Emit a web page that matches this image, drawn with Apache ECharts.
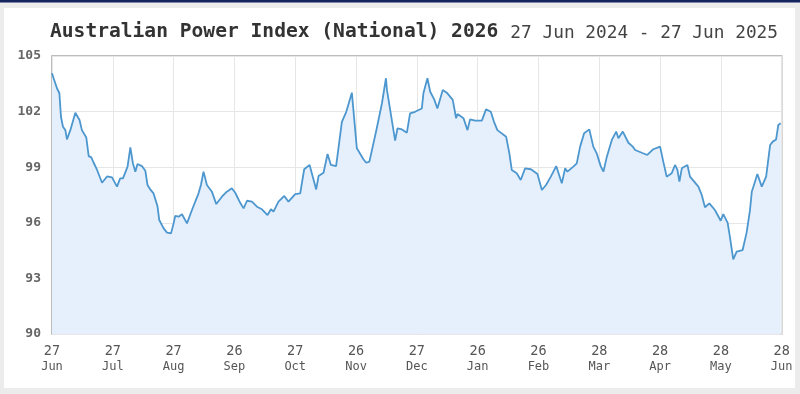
<!DOCTYPE html>
<html>
<head>
<meta charset="utf-8">
<script src="https://cdn.jsdelivr.net/npm/echarts@6/dist/echarts.min.js"></script>
<style>
html,body{margin:0;padding:0;background:#ececec;}
#chart{width:800px;height:394px;}
</style>
</head>
<body>
<div id="chart"></div>
<script>
// Days since 27 Jun 2024
const dayOffsets = [0,0.8,2.5,3.7,4.5,5.5,6.7,7.5,9.2,11.7,13.8,15,17.2,18.4,19.7,20.9,22.6,25.1,27.6,30.1,32.6,34.2,35.6,37.9,39.3,40.6,41.8,42.9,45.1,46.8,47.9,49.3,50.9,52.9,53.8,56,57.7,59.7,61,61.8,63.5,65.2,67.7,70.2,73.5,74.7,76,77.7,80.2,82.4,85.2,87.7,90.2,91.9,94.4,
96.1,97.8,100.3,102.8,105.3,108.1,109.8,111.1,113.6,116.5,118.6,122,124.5,126.5,129.2,132.5,133.7,136.2,138.2,139.9,142.5,145.4,147.6,150.4,152.9,156.2,157.6,159.2,162.9,165.5,167.5,168,172.1,173.3,175.5,178,179.6,182.1,185.5,
186.3,188.3,189.7,191.7,193.3,196,198,201,202.7,203.4,206.4,208.4,209.7,212.2,215.6,217.7,220.1,221.7,223.4,227.8,229.4,230.6,233.1,235.1,237.3,240.2,243.5,245.7,247.8,250.2,252.9,255.7,257.4,258.5,261.5,263.2,264.9,266.9,269.5,271.5,273.2,275.3,276.6,
278.3,280.8,283,284.1,286.3,289.1,291.3,292.5,295.8,298.6,301.6,305,306.6,308.3,310.8,312.5,313.7,314.7,315.9,318.7,320,322.1,324.2,325.9,327.5,329.7,332.5,335.4,336.7,338.9,340,341.7,343.4,346.4,348.4,350.1,351,352.6,353.8,356,358.2,360.2,361.5,363.2,364.3,365.5];
const indexValues = [104.07,103.8,103.26,102.99,101.72,101.18,101.0,100.5,101.0,101.94,101.55,101.0,100.6,99.6,99.53,99.24,98.85,98.16,98.5,98.45,97.95,98.4,98.4,99.03,100.07,99.2,98.76,99.17,99.06,98.81,98.04,97.8,97.59,96.9,96.15,95.7,95.47,95.43,95.97,96.37,96.33,96.46,95.97,96.69,97.59,98.04,98.76,98.04,97.68,97.01,97.41,97.68,97.86,97.62,97.08,
96.78,97.19,97.14,96.87,96.73,96.42,96.73,96.6,97.14,97.45,97.14,97.55,97.59,98.89,99.12,97.8,98.52,98.7,99.71,99.12,99.06,101.45,101.99,103.02,100.02,99.43,99.24,99.3,101.1,102.45,103.8,103.17,100.43,101.1,101.04,100.86,101.9,101.99,102.17,
102.99,103.8,103.07,102.66,102.17,103.17,103.02,102.63,101.64,101.87,101.64,101.0,101.58,101.51,101.51,102.12,101.99,101.45,101.0,100.64,99.75,98.85,98.67,98.31,98.94,98.89,98.63,97.77,98.04,98.49,99.06,98.13,98.94,98.76,99.03,99.21,100.11,100.83,101.04,100.11,99.75,99.03,98.76,
99.57,100.47,100.92,100.56,100.92,100.32,100.11,99.93,99.78,99.66,99.97,100.11,99.3,98.49,98.67,99.12,98.85,98.22,98.94,99.12,98.49,98.22,97.95,97.5,96.84,97.05,96.69,96.11,96.47,96.0,95.25,94.03,94.44,94.53,95.47,96.69,97.68,98.22,98.63,97.95,98.49,100.2,100.38,100.5,101.28,101.37];
const xTickDays = ['27','27','27','26','27','26','27','26','26','28','28','28','28'];
const xTickMonths = ['Jun','Jul','Aug','Sep','Oct','Nov','Dec','Jan','Feb','Mar','Apr','May','Jun'];
const yTicks = [90,93,96,99,102,105];
const titleMain = 'Australian Power Index (National) 2026';
const titleRange = '27 Jun 2024 - 27 Jun 2025';

const mono = '"DejaVu Sans Mono", "Liberation Mono", monospace';
const points = dayOffsets.map((d,i)=>[d, indexValues[i]]);
const chart = echarts.init(document.getElementById('chart'), null, {renderer:'canvas'});
chart.setOption({
  backgroundColor:'#ececec',
  animation:false,
  graphic:[
    {type:'rect', shape:{x:0,y:0,width:800,height:2.5}, style:{fill:'#14245e'}, z:-10},
    {type:'rect', shape:{x:4,y:8,width:791,height:380}, style:{fill:'#ffffff'}, z:-10},
    {type:'text', left:50, top:22, style:{text:titleMain, fontFamily:mono, fontWeight:'bold', fontSize:19.6, fill:'#333333'}},
    {type:'text', right:22, top:24, style:{text:titleRange, fontFamily:mono, fontWeight:'normal', fontSize:17.8, fill:'#444444'}}
  ],
  grid:{left:52, right:18.3, top:56, bottom:60, show:true, borderColor:'#a8a8a8', borderWidth:1.5, backgroundColor:'transparent'},
  xAxis:{type:'value', min:0, max:366, interval:30.5,
    axisLine:{show:false}, axisTick:{show:false},
    splitLine:{show:true, lineStyle:{color:'#e6e6e6', width:1}},
    axisLabel:{margin:9, lineHeight:16,
      formatter:(v)=>{const i=Math.round(v/30.5); return xTickDays[i]!==undefined ? '{d|'+xTickDays[i]+'}\n{m|'+xTickMonths[i]+'}' : '';},
      rich:{d:{fontFamily:mono, fontSize:13.5, color:'#555', lineHeight:16},
            m:{fontFamily:mono, fontSize:12, color:'#555', lineHeight:16}}}},
  yAxis:{type:'value', min:yTicks[0], max:yTicks[yTicks.length-1], interval:3,
    axisLine:{show:false}, axisTick:{show:false},
    splitLine:{show:true, lineStyle:{color:'#e6e6e6', width:1}},
    axisLabel:{margin:11, fontFamily:mono, fontSize:13, fontWeight:'bold', color:'#666'}},
  series:[{type:'line', data:points, showSymbol:false, symbol:'none',
    lineStyle:{color:'#4d97cf', width:1.8},
    areaStyle:{color:'#e6f0fc', opacity:1, origin:'start'}}]
});
</script>
</body>
</html>
